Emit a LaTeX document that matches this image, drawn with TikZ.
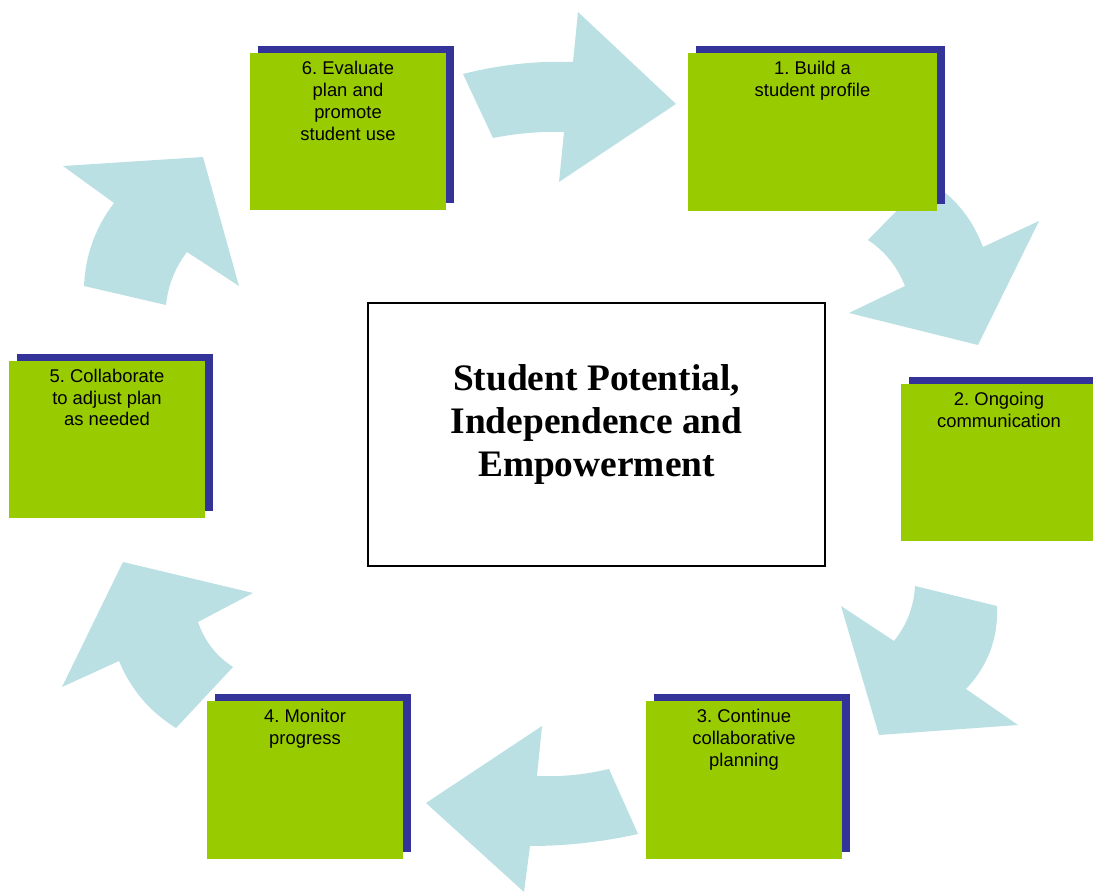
\documentclass[tikz,border=0pt]{standalone}
\usepackage{fontspec}
\setmainfont{Liberation Serif}
\setsansfont{Liberation Sans}
\usetikzlibrary{positioning,shadows}
\definecolor{stepgreen}{HTML}{99CC00}
\definecolor{stepblue}{HTML}{333399}
\definecolor{flowblue}{HTML}{BBE0E3}

\begin{document}
\begin{tikzpicture}[x=0.5pt,y=-0.5pt]
        \tikzset{stepbox/.style={fill=stepgreen, minimum width=98pt, minimum height=78.5pt, inner sep=0pt,
                drop shadow={fill=stepblue, opacity=1, shadow xshift=4pt, shadow yshift=3.5pt}},
            steptext/.style={font=\sffamily\frenchspacing\fontsize{9.2}{10.9}\selectfont, align=center, inner sep=0pt},
            flow/.style={fill=flowblue},
            hub/.style={draw, line width=1pt, fill=white, minimum width=228.5pt, minimum height=131.5pt},
            hubtext/.style={font=\bfseries\fontsize{18.7}{21.5}\selectfont, align=center, inner sep=0pt}}
        \useasboundingbox (0,0) rectangle (1093,892);
        \clip (0,0) rectangle (1093,892);
        % curved arrows round the cycle
        \fill[flow] (463,74) .. controls (499.7,64.7) and (536.3,60.7) .. (573,62) -- (578,12) -- (676,104)
            -- (559,182) -- (564,132) .. controls (540.3,131.3) and (516.7,133.3) .. (493,138) -- cycle;
        \fill[flow] (868,240) -- (927,180) .. controls (953,195) and (971.7,217.3) .. (983,247) -- (1039,221)
            -- (978,345) -- (849,313) -- (905,286) .. controls (897.3,266.7) and (885,251.3) .. (868,240) -- cycle;
        \fill[flow] (915,586) -- (997,606) .. controls (998.4,638.1) and (988.1,665.7) .. (966,689) -- (1018,725)
            -- (879,735) -- (841,606) -- (894,641) .. controls (906.9,624.9) and (913.9,606.6) .. (915,586) -- cycle;
        \fill[flow] (609,769) -- (638,834) .. controls (602,842) and (566,846) .. (530,846) -- (524,892)
            -- (426,803) -- (542,726) -- (537,776) .. controls (561,777) and (585,774.7) .. (609,769) -- cycle;
        \fill[flow] (176,728) -- (233,667) .. controls (216.1,656) and (204.5,641) .. (198,622) -- (253,593)
            -- (123,562) -- (62,687) -- (119,661) .. controls (130.8,689.5) and (149.8,711.8) .. (176,728) -- cycle;
        \fill[flow] (84,286) -- (166,305) .. controls (168.1,285.3) and (175,267.7) .. (187,252) -- (239,286)
            -- (203,157) -- (63,166) -- (114,203) .. controls (95.3,227.6) and (85.3,255.3) .. (84,286) -- cycle;
        % the six steps
        \node[stepbox, minimum width=124.5pt, minimum height=79pt] (box1) at (812.5,132) {};
        \node[stepbox] (box2) at (999,462.5) {};
        \node[stepbox] (box3) at (744,780) {};
        \node[stepbox] (box4) at (305,780) {};
        \node[stepbox] (box5) at (107,439.5) {};
        \node[stepbox] (box6) at (348,132) {};
        \node[steptext, below=4pt of box1.north] (text1) {1. Build a\\student profile};
        \node[steptext, below=4pt of box2.north] (text2) {2. Ongoing\\communication};
        \node[steptext, below=4pt of box3.north] (text3) {3. Continue\\collaborative\\planning};
        \node[steptext, below=4pt of box4.north] (text4) {4. Monitor\\progress};
        \node[steptext, below=4pt of box5.north] (text5) {5. Collaborate\\to adjust plan\\as needed};
        \node[steptext, below=4pt of box6.north] (text6) {6. Evaluate\\plan and\\promote\\student use};
        % centre
        \node[hub] (hub) at (596.5,434.5) {};
        \node[hubtext] (title) at ([yshift=5pt]hub.center) {Student Potential,\\Independence and\\Empowerment};
    \end{tikzpicture}
\end{document}
